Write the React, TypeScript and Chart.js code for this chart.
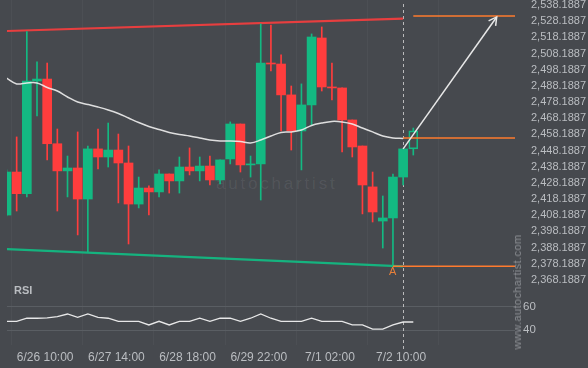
import React, { useEffect, useRef } from "react";
import { Chart, registerables } from "chart.js";
Chart.register(...registerables);

// ---- data ----
const timeLabels = ["6/26 10:00", "6/27 14:00", "6/28 18:00", "6/29 22:00", "7/1 02:00", "7/2 10:00"];
const timeLabelIndex = [4, 11, 18, 25, 32, 39];

const opens = [2408.3, 2434.9, 2421.5, 2491.2, 2492.4, 2452.4, 2435.6, 2437.4, 2418.2, 2449.2, 2444.2, 2448.5, 2440.5, 2415.1, 2425.0, 2422.6, 2433.7, 2429.4, 2438.0, 2435.6, 2438.6, 2430.0, 2443.0, 2464.6, 2439.3, 2439.9, 2502.3, 2501.7, 2482.6, 2460.3, 2476.4, 2517.8, 2487.5, 2486.9, 2467.1, 2451.0, 2425.7, 2404.6, 2406.5, 2431.8, 2449.2];
const highs = [2436.2, 2456.6, 2521.7, 2503.0, 2502.3, 2461.5, 2444.8, 2459.7, 2451.0, 2461.5, 2465.2, 2458.4, 2451.0, 2431.8, 2426.3, 2436.2, 2433.7, 2444.2, 2449.8, 2444.2, 2444.8, 2442.4, 2465.9, 2464.6, 2444.8, 2526.5, 2525.8, 2507.3, 2488.1, 2489.4, 2520.3, 2524.6, 2502.3, 2486.9, 2467.1, 2451.0, 2434.9, 2420.1, 2433.7, 2449.2, 2462.1];
const lows = [2407.7, 2410.8, 2419.5, 2469.6, 2442.4, 2410.8, 2419.5, 2396.0, 2385.5, 2436.8, 2438.0, 2415.8, 2390.4, 2412.7, 2408.3, 2419.5, 2421.9, 2421.9, 2433.1, 2429.4, 2426.9, 2427.5, 2439.9, 2434.9, 2431.8, 2417.6, 2497.4, 2460.3, 2448.5, 2436.2, 2464.0, 2485.0, 2479.5, 2447.3, 2444.2, 2409.0, 2404.0, 2387.9, 2376.8, 2426.9, 2445.4];
const closes = [2434.9, 2421.5, 2491.2, 2492.4, 2452.4, 2435.6, 2437.4, 2418.2, 2449.2, 2444.2, 2448.5, 2440.5, 2415.1, 2425.0, 2422.6, 2433.7, 2429.4, 2438.0, 2435.6, 2438.6, 2430.0, 2442.4, 2464.6, 2439.3, 2439.9, 2502.3, 2501.7, 2482.6, 2460.3, 2476.4, 2518.4, 2487.5, 2486.9, 2467.1, 2450.4, 2426.9, 2410.2, 2406.5, 2431.8, 2449.2, 2460.3];

const maValues = [2493.0, 2489.4, 2490.0, 2490.0, 2487.2, 2485.0, 2481.3, 2478.2, 2476.7, 2475.1, 2473.3, 2471.1, 2468.3, 2465.5, 2463.1, 2461.2, 2459.4, 2458.1, 2457.2, 2456.0, 2454.7, 2454.1, 2454.1, 2453.8, 2452.9, 2454.7, 2457.2, 2459.4, 2459.7, 2460.9, 2463.7, 2465.2, 2466.2, 2465.9, 2464.6, 2462.1, 2459.7, 2457.2, 2456.0, 2455.7];

const rsiValues = [47.6, 47.6, 50.2, 50.2, 50.5, 51.5, 53.8, 51.0, 53.8, 51.0, 50.2, 47.6, 47.6, 47.6, 44.5, 47.6, 44.5, 47.6, 47.6, 50.2, 47.6, 50.2, 50.2, 47.6, 50.2, 53.8, 50.2, 47.6, 47.6, 47.6, 50.2, 47.6, 47.6, 47.6, 44.5, 44.5, 41.0, 41.0, 44.5, 47.0, 47.0];

const priceTicks = [2368.1887, 2378.1887, 2388.1887, 2398.1887, 2408.1887, 2418.1887, 2428.1887, 2438.1887, 2448.1887, 2458.1887, 2468.1887, 2478.1887, 2488.1887, 2498.1887, 2508.1887, 2518.1887, 2528.1887, 2538.1887];
const rsiTicks = [40, 60];

const channelIndex = [0, 39];
const resistance = [2522.1, 2529.8];
const support = [2387.3, 2376.5];
const patternEndIndex = 39;

const levelStartIndex = [40, 39, 38];
const levelPrices = [2531.4, 2455.9, 2376.6];
const levelEndIndex = 50;

const arrowIndex = [39, 48.2];
const arrowPrice = [2449.2, 2530.8];

const xRange = [0.05, 50];
const priceRange = [2365.04, 2541.28];
const rsiRange = [27.5, 78.4];

// ---- styles ----
const BG = "#46494e";
const GREEN = "#13b982";
const RED = "#ff3d3d";
const ORANGE = "#ff7b2e";
const LABEL = "#babdc1";
const FONT = "'Liberation Sans', Arial, sans-serif";

const fmtPrice = (v: number) =>
  Number(v).toLocaleString("en-US", { minimumFractionDigits: 4, maximumFractionDigits: 4 });

export default function App() {
  const ref = useRef<HTMLCanvasElement>(null);

  useEffect(() => {
    document.body.style.margin = "0";
    const idx = opens.map((_, i) => i);
    const last = opens.length - 1;
    const colors = idx.map((i) => (closes[i] >= opens[i] ? GREEN : RED));
    const bodyFill = idx.map((i) => (i === last ? "rgba(0,0,0,0)" : colors[i]));
    const bodyBorder = idx.map((i) => (i === last ? 1 : 0));

    const lineDs = (data: any[], color: string, width: number, order: number, extra: any = {}) => ({
      type: "line",
      data,
      borderColor: color,
      borderWidth: width,
      pointRadius: 0,
      fill: false,
      order,
      yAxisID: "y",
      ...extra,
    });

    const datasets: any[] = [
      lineDs(arrowIndex.map((x, k) => ({ x, y: arrowPrice[k] })), "#e8e8e8", 1.5, 0),
      ...levelPrices.map((p, k) =>
        lineDs([{ x: levelStartIndex[k], y: p }, { x: levelEndIndex, y: p }], ORANGE, 1.5, 1)
      ),
      lineDs(maValues.map((y, i) => ({ x: i, y })), "rgba(238,238,238,0.9)", 1.5, 2, { tension: 0.35 }),
      {
        type: "bar",
        data: idx.map((i) => ({ x: i, y: [opens[i], closes[i]] })),
        backgroundColor: bodyFill,
        borderColor: colors,
        borderWidth: bodyBorder,
        borderSkipped: false,
        barThickness: 9,
        minBarLength: 1,
        grouped: false,
        order: 4,
        yAxisID: "y",
      },
      {
        type: "bar",
        data: idx.map((i) => ({ x: i, y: [Math.max(opens[i], closes[i]), highs[i]] })),
        backgroundColor: colors,
        borderWidth: 0,
        barThickness: 1,
        grouped: false,
        order: 5,
        yAxisID: "y",
      },
      {
        type: "bar",
        data: idx.map((i) => ({ x: i, y: [lows[i], Math.min(opens[i], closes[i])] })),
        backgroundColor: colors,
        borderWidth: 0,
        barThickness: 1,
        grouped: false,
        order: 5,
        yAxisID: "y",
      },
      lineDs(channelIndex.map((x, k) => ({ x, y: resistance[k] })), "rgba(240,62,62,0.95)", 2.2, 6),
      lineDs(channelIndex.map((x, k) => ({ x, y: support[k] })), "rgba(19,185,130,0.95)", 2.2, 6),
      lineDs(rsiValues.map((y, i) => ({ x: i, y })), "rgba(240,240,240,0.95)", 1.3, 3, { yAxisID: "yRsi" }),
    ];

    const overlay = {
      id: "overlay",
      beforeDatasetsDraw(chart: any) {
        const ctx = chart.ctx;
        const px = Math.round(chart.scales.x.getPixelForValue(patternEndIndex)) + 0.5;
        const { top, bottom } = chart.chartArea;
        ctx.save();
        ctx.strokeStyle = "rgba(215,215,215,0.8)";
        ctx.lineWidth = 1;
        ctx.setLineDash([3, 3]);
        ctx.beginPath();
        ctx.moveTo(px, top + 4);
        ctx.lineTo(px, bottom + 5);
        ctx.stroke();
        ctx.restore();
      },
      afterDatasetsDraw(chart: any) {
        const meta = chart.getDatasetMeta(0);
        const [p0, p1] = meta.data;
        if (!p0 || !p1) return;
        const ang = Math.atan2(p1.y - p0.y, p1.x - p0.x);
        const len = 9;
        const spread = 0.5;
        const ctx = chart.ctx;
        ctx.save();
        ctx.strokeStyle = "#e8e8e8";
        ctx.lineWidth = 1.5;
        ctx.beginPath();
        ctx.moveTo(p1.x - len * Math.cos(ang - spread), p1.y - len * Math.sin(ang - spread));
        ctx.lineTo(p1.x, p1.y);
        ctx.lineTo(p1.x - len * Math.cos(ang + spread), p1.y - len * Math.sin(ang + spread));
        ctx.stroke();
        ctx.restore();
      },
    };

    const yFit = (s: any) => {
      s.width = 73;
      s.paddingTop = 0;
      s.paddingBottom = 0;
    };

    const chart = new Chart(ref.current as HTMLCanvasElement, {
      type: "line",
      data: { datasets },
      options: {
        animation: false,
        responsive: false,
        events: [],
        layout: { padding: { left: 7, top: 0, right: 0, bottom: 0 } },
        plugins: { legend: { display: false }, tooltip: { enabled: false } },
        scales: {
          x: {
            type: "linear",
            min: xRange[0],
            max: xRange[1],
            offset: false,
            grid: { color: "rgba(255,255,255,0.035)", drawTicks: false },
            border: { display: false },
            afterBuildTicks: (s: any) => {
              s.ticks = timeLabelIndex.map((v) => ({ value: v }));
            },
            afterFit: (s: any) => {
              s.height = 23;
              s.paddingLeft = 0;
              s.paddingRight = 0;
            },
            ticks: {
              autoSkip: false,
              maxRotation: 0,
              padding: 5,
              labelOffset: -2,
              color: LABEL,
              font: { family: FONT, size: 12 },
              callback: (v: any) => {
                const k = timeLabelIndex.indexOf(Number(v));
                return k >= 0 ? timeLabels[k] : "";
              },
            },
          },
          y: {
            type: "linear",
            position: "right",
            stack: "panes",
            stackWeight: 285,
            min: priceRange[0],
            max: priceRange[1],
            grid: { display: false },
            border: { display: false },
            afterBuildTicks: (s: any) => {
              s.ticks = priceTicks.map((v) => ({ value: v }));
            },
            afterFit: yFit,
            ticks: {
              autoSkip: false,
              padding: 8,
              color: LABEL,
              font: { family: FONT, size: 11 },
              callback: (v: any) => fmtPrice(v),
            },
          },
          yRsi: {
            type: "linear",
            position: "right",
            stack: "panes",
            stackWeight: 60,
            min: rsiRange[0],
            max: rsiRange[1],
            grid: { color: "#5a5e63", drawTicks: false },
            border: { display: false },
            afterBuildTicks: (s: any) => {
              s.ticks = rsiTicks.map((v) => ({ value: v }));
            },
            afterFit: yFit,
            ticks: {
              autoSkip: false,
              padding: 8,
              color: LABEL,
              font: { family: FONT, size: 11.5 },
            },
          },
        },
      } as any,
      plugins: [overlay],
    });
    return () => chart.destroy();
  }, []);

  return (
    <div
      style={{
        position: "fixed",
        left: 0,
        top: 0,
        width: 588,
        height: 368,
        background: BG,
        overflow: "hidden",
        fontFamily: FONT,
      }}
    >
      <div
        style={{
          position: "absolute",
          left: 216,
          top: 174,
          fontSize: 17,
          letterSpacing: 2.8,
          color: "rgba(255,255,255,0.08)",
          whiteSpace: "nowrap",
        }}
      >
        autochartist
      </div>
      <canvas ref={ref} width={588} height={368} style={{ position: "absolute", left: 0, top: 0, zIndex: 1 }} />
      <div
        style={{
          position: "absolute",
          left: 14,
          top: 284,
          fontSize: 11,
          fontWeight: "bold",
          color: LABEL,
          zIndex: 2,
        }}
      >
        RSI
      </div>
      <div
        style={{
          position: "absolute",
          left: 389,
          top: 265,
          fontSize: 11,
          color: "#e8803a",
          zIndex: 2,
        }}
      >
        A
      </div>
      <div
        style={{
          position: "absolute",
          left: 517,
          top: 292,
          transform: "translate(-50%, -50%) rotate(-90deg)",
          fontSize: 11,
          letterSpacing: 0.4,
          color: "#8c8f94",
          whiteSpace: "nowrap",
          zIndex: 2,
        }}
      >
        www.autochartist.com
      </div>
    </div>
  );
}
